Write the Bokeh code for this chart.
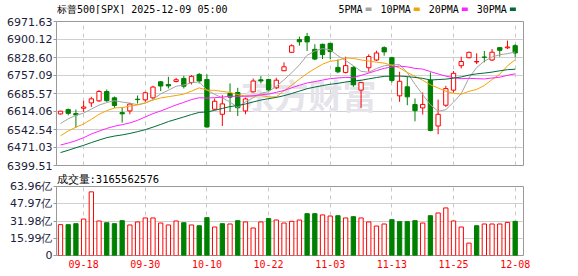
import numpy as np
import pandas as pd
from bokeh.plotting import figure
from bokeh.layouts import column
from bokeh.models import ColumnDataSource, Range1d, FixedTicker, Label, Title
from bokeh.core.properties import value
from bokeh.embed import file_html
from bokeh.resources import INLINE

# ---------------- data ----------------
title_text = "标普500[SPX] 2025-12-09 05:00"
vol_title = "成交量:3165562576"

dates = ["09-15", "09-16", "09-17", "09-18", "09-19", "09-22", "09-23", "09-24", "09-25", "09-26",
         "09-29", "09-30", "10-01", "10-02", "10-03", "10-06", "10-07", "10-08", "10-09", "10-10",
         "10-13", "10-14", "10-15", "10-16", "10-17", "10-20", "10-21", "10-22", "10-23", "10-24",
         "10-27", "10-28", "10-29", "10-30", "10-31", "11-03", "11-04", "11-05", "11-06", "11-07",
         "11-10", "11-11", "11-12", "11-13", "11-14", "11-17", "11-18", "11-19", "11-20", "11-21",
         "11-24", "11-25", "11-26", "11-28", "12-01", "12-02", "12-03", "12-04", "12-05", "12-08"]

opens = [6604.4, 6621.7, 6605.7, 6627.0, 6648.3, 6656.3, 6693.5, 6668.3, 6609.7, 6616.4,
         6663.0, 6660.3, 6668.3, 6732.1, 6721.4, 6733.4, 6745.4, 6729.4, 6761.4, 6741.4,
         6623.0, 6603.0, 6685.6, 6689.5, 6616.4, 6692.2, 6740.0, 6741.4, 6708.2, 6776.0,
         6849.1, 6899.7, 6911.6, 6861.0, 6881.0, 6885.0, 6789.3, 6769.3, 6789.3, 6698.9,
         6788.0, 6818.6, 6867.8, 6827.9, 6676.2, 6712.1, 6641.7, 6628.4, 6738.8, 6556.5,
         6639.0, 6698.9, 6795.9, 6827.9, 6811.0, 6830.5, 6818.6, 6867.8, 6867.0, 6875.7]

highs = [6617.0, 6625.7, 6621.7, 6656.3, 6672.3, 6698.8, 6701.5, 6673.6, 6628.4, 6648.3,
         6677.6, 6693.5, 6716.1, 6734.8, 6752.0, 6748.0, 6756.0, 6758.7, 6766.7, 6761.4,
         6665.6, 6678.9, 6725.5, 6708.2, 6669.6, 6745.4, 6754.7, 6744.0, 6748.0, 6809.2,
         6881.0, 6911.6, 6926.3, 6881.0, 6883.7, 6886.0, 6821.2, 6831.8, 6794.6, 6729.4,
         6841.2, 6855.8, 6873.1, 6831.8, 6772.0, 6752.0, 6665.6, 6689.5, 6769.3, 6661.6,
         6716.1, 6774.7, 6831.8, 6851.8, 6845.2, 6854.5, 6862.4, 6869.0, 6895.7, 6881.0]

lows = [6602.0, 6599.0, 6549.9, 6612.4, 6632.4, 6652.3, 6652.3, 6628.4, 6569.8, 6603.0,
        6645.7, 6652.3, 6661.6, 6694.9, 6705.5, 6729.4, 6705.5, 6721.5, 6725.4, 6549.9,
        6620.4, 6556.5, 6612.4, 6596.4, 6603.0, 6689.5, 6725.4, 6697.5, 6702.8, 6774.7,
        6847.8, 6875.7, 6854.5, 6818.0, 6822.5, 6822.5, 6766.0, 6765.3, 6712.1, 6628.4,
        6772.0, 6814.6, 6835.8, 6729.4, 6652.3, 6639.0, 6575.2, 6601.8, 6535.3, 6523.3,
        6632.4, 6689.5, 6785.3, 6825.2, 6802.6, 6809.2, 6814.6, 6831.8, 6862.4, 6829.2]

closes = [6615.28, 6606.76, 6600.35, 6631.96, 6664.36, 6693.75, 6656.92, 6637.97, 6604.72, 6643.70,
          6661.21, 6688.46, 6711.20, 6715.35, 6715.79, 6740.28, 6714.59, 6753.72, 6735.11, 6552.51,
          6654.72, 6644.31, 6671.06, 6629.07, 6664.01, 6735.13, 6735.35, 6699.40, 6738.44, 6791.69,
          6875.16, 6890.89, 6890.59, 6822.34, 6840.20, 6851.97, 6771.55, 6796.29, 6720.32, 6728.80,
          6832.43, 6846.61, 6850.92, 6737.49, 6734.11, 6672.41, 6617.32, 6642.16, 6538.76, 6602.99,
          6705.12, 6765.88, 6812.61, 6849.09, 6812.63, 6829.37, 6849.72, 6857.12, 6870.40, 6846.51]

# closes of the 29 sessions before 09-15 (needed for the moving averages at the left edge)
prior_closes = [6329.94, 6299.19, 6345.06, 6340.00, 6389.45, 6373.45, 6445.76, 6466.58, 6468.54, 6449.80,
                6449.15, 6411.37, 6395.78, 6370.17, 6466.91, 6439.32, 6465.94, 6481.40, 6501.86, 6460.26,
                6415.54, 6448.26, 6502.08, 6481.50, 6495.15, 6512.61, 6532.04, 6587.47, 6584.29]

# volume in 亿 (1e8 shares)
volumes = [28.6, 28.6, 29.5, 33.8, 59.0, 32.0, 30.4, 29.5, 32.3, 28.3,
           31.1, 34.8, 34.8, 30.1, 28.3, 32.0, 30.4, 28.3, 27.6, 35.1,
           26.4, 29.5, 29.2, 32.3, 31.1, 25.5, 31.1, 34.2, 32.9, 30.1,
           31.7, 32.9, 38.8, 38.8, 37.6, 36.6, 36.9, 34.8, 36.0, 34.8,
           31.1, 27.3, 29.2, 33.2, 31.4, 31.4, 32.3, 30.1, 36.9, 39.4,
           44.1, 32.0, 26.4, 11.5, 27.6, 29.2, 29.2, 29.2, 30.7, 31.66]

price_ticks = [6399.51, 6471.03, 6542.54, 6614.06, 6685.57, 6757.09, 6828.60, 6900.12, 6971.63]
price_tick_labels = ["6399.51", "6471.03", "6542.54", "6614.06", "6685.57", "6757.09", "6828.60", "6900.12", "6971.63"]
vol_ticks = [0, 15.99, 31.98, 47.97, 63.96]
vol_tick_labels = ["0", "15.99亿", "31.98亿", "47.97亿", "63.96亿"]
date_tick_idx = [3, 11, 19, 27, 35, 43, 51, 59]

ma_periods = [5, 10, 20, 30]
ma_names = ["5PMA", "10PMA", "20PMA", "30PMA"]
ma_colors = ["#a3a3a3", "#f5a300", "#ff22ff", "#006b38"]

RED = "#ff0000"
GREEN = "#008000"
W = 578
LEFT, RIGHT = 56, 55

# ---------------- derived ----------------
n = len(dates)
x = list(range(n))
all_closes = pd.Series(prior_closes + closes)
mas = [all_closes.rolling(k).mean().to_numpy()[len(prior_closes):] for k in ma_periods]

up = [c >= o for o, c in zip(opens, closes)]
prev_close = [prior_closes[-1]] + closes[:-1]
vol_up = [c >= pc for c, pc in zip(closes, prev_close)]

candle = ColumnDataSource(dict(
    x=x, high=highs, low=lows,
    top=[max(o, c) for o, c in zip(opens, closes)],
    bottom=[min(o, c) for o, c in zip(opens, closes)],
    line=[RED if u else GREEN for u in up],
    fill=["#ffffff" if u else GREEN for u in up],
))
vol_src = ColumnDataSource(dict(
    x=x, vol=volumes,
    line=[RED if u else GREEN for u in vol_up],
    fill=["#ffffff" if u else GREEN for u in vol_up],
))

xr = Range1d(-0.52, 60.08)

# ---------------- header strip (title + MA legend); x in page pixels ----------------
HEAD_H = 14
ph = figure(width=W, height=HEAD_H, x_range=Range1d(LEFT, W - RIGHT), y_range=Range1d(HEAD_H, 0),
            output_backend="svg", toolbar_location=None, x_axis_location=None, y_axis_location=None,
            min_border_left=LEFT, min_border_right=RIGHT, min_border_top=0, min_border_bottom=0)
ph.outline_line_color = None
ph.grid.visible = False
ph.background_fill_color = "#ffffff"
ph.border_fill_color = "#ffffff"

ph.text(x=[LEFT + 0.5], y=[8.5], text=[title_text], text_font=value("DejaVu Sans Mono"),
        text_font_size="10px", text_color="#000000", text_baseline="middle", text_align="left")

leg_x, leg_text, sw_l, sw_r = [], [], [], []
lx = 338.0
for name in ma_names:
    leg_x.append(lx)
    leg_text.append(name)
    sl = lx + len(name) * 6.02 + 3
    sw_l.append(sl)
    sw_r.append(sl + 6)
    lx = sl + 15
ph.text(x=leg_x, y=[8.5] * 4, text=leg_text, text_font=value("DejaVu Sans Mono"),
        text_font_size="10px", text_color="#000000", text_baseline="middle", text_align="left")
ph.quad(left=sw_l, right=sw_r, top=[7] * 4, bottom=[10.5] * 4, fill_color=ma_colors, line_color=None)

# ---------------- main price panel ----------------
MAIN_H = 158
p = figure(width=W, height=MAIN_H, x_range=xr, y_range=Range1d(price_ticks[0], price_ticks[-1]),
           output_backend="svg", toolbar_location=None, x_axis_location=None,
           min_border_left=LEFT, min_border_right=RIGHT, min_border_top=7, min_border_bottom=7)
p.outline_line_color = "#999999"
p.outline_line_width = 1
p.background_fill_color = "#ffffff"
p.border_fill_color = "#ffffff"

yax = p.yaxis[0]
yax.ticker = FixedTicker(ticks=price_ticks)
yax.major_label_overrides = dict(zip(price_ticks, price_tick_labels))
yax.axis_line_color = None
yax.major_tick_out = 3
yax.major_tick_in = 0
yax.minor_tick_out = 0
yax.minor_tick_in = 0
yax.major_tick_line_color = "#999999"
yax.major_label_standoff = 1
yax.major_label_text_font = "DejaVu Sans"
yax.major_label_text_font_size = "11px"
yax.major_label_text_color = "#1c1c3c"

p.ygrid.ticker = FixedTicker(ticks=price_ticks)
p.ygrid.grid_line_color = "#cfcfcf"
p.xgrid.ticker = FixedTicker(ticks=date_tick_idx)
p.xgrid.grid_line_color = "#c8c8c8"
p.xgrid.grid_line_dash = "4 4"

# watermark
wm = Label(x=252, y=71, x_units="screen", y_units="screen", text="东方财富",
           text_font="Noto Sans CJK SC", text_font_style="bold", text_font_size="34px",
           text_color="#e4e4ea", text_align="center", text_baseline="middle", level="underlay")
p.add_layout(wm)

p.segment(x0="x", y0="high", x1="x", y1="low", line_color="line", line_width=1, source=candle)
p.vbar(x="x", width=0.56, top="top", bottom="bottom", fill_color="fill", line_color="line",
       line_width=1, source=candle)

for ma, col in zip(mas, ma_colors):
    p.line(x, ma, line_color=col, line_width=1)

# ---------------- volume panel ----------------
VOL_H = 276 - HEAD_H - MAIN_H
pv = figure(width=W, height=VOL_H, x_range=xr, y_range=Range1d(vol_ticks[0], vol_ticks[-1]),
            output_backend="svg", toolbar_location=None,
            min_border_left=LEFT, min_border_right=RIGHT, min_border_top=14, min_border_bottom=21)
pv.outline_line_color = "#999999"
pv.outline_line_width = 1
pv.background_fill_color = "#ffffff"
pv.border_fill_color = "#ffffff"

t = Title(text=vol_title, align="left", vertical_align="top", text_font="DejaVu Sans Mono",
          text_font_size="10.5px", text_color="#000000", text_font_style="normal", standoff=0, offset=0)
pv.add_layout(t, "above")

vy = pv.yaxis[0]
vy.ticker = FixedTicker(ticks=vol_ticks)
vy.major_label_overrides = dict(zip(vol_ticks, vol_tick_labels))
vy.axis_line_color = None
vy.major_tick_out = 3
vy.major_tick_in = 0
vy.minor_tick_out = 0
vy.minor_tick_in = 0
vy.major_tick_line_color = "#999999"
vy.major_label_standoff = 1
vy.major_label_text_font = "DejaVu Sans"
vy.major_label_text_font_size = "11px"
vy.major_label_text_color = "#1c1c3c"

vx = pv.xaxis[0]
vx.ticker = FixedTicker(ticks=date_tick_idx)
vx.major_label_overrides = {i: dates[i] for i in date_tick_idx}
vx.axis_line_color = None
vx.major_tick_out = 0
vx.major_tick_in = 0
vx.minor_tick_out = 0
vx.minor_tick_in = 0
vx.major_label_standoff = 4
vx.major_label_text_font = "DejaVu Sans Mono"
vx.major_label_text_font_size = "10px"
vx.major_label_text_color = RED

pv.ygrid.ticker = FixedTicker(ticks=vol_ticks)
pv.ygrid.grid_line_color = "#cfcfcf"
pv.xgrid.ticker = FixedTicker(ticks=date_tick_idx)
pv.xgrid.grid_line_color = "#c8c8c8"
pv.xgrid.grid_line_dash = "4 4"

pv.vbar(x="x", width=0.56, top="vol", bottom=0, fill_color="fill", line_color="line",
        line_width=1, source=vol_src)

layout = column(ph, p, pv, spacing=0)
open("out.html", "w").write(file_html(layout, INLINE))
